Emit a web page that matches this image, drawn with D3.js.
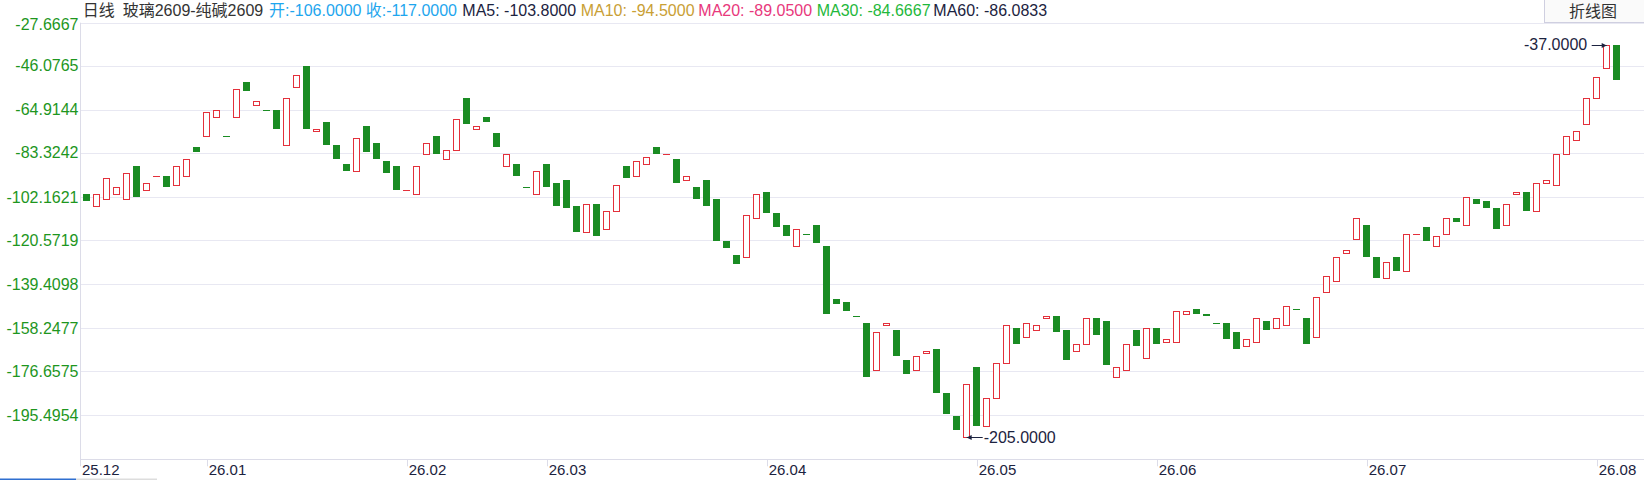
<!DOCTYPE html>
<html>
<head>
<meta charset="utf-8">
<script src="https://cdn.jsdelivr.net/npm/d3@7"></script>
<style>
  html, body { margin: 0; padding: 0; background: #ffffff; }
  svg { display: block; font-family: Arial, 'Liberation Sans', 'Noto Sans CJK SC', sans-serif; }
</style>
</head>
<body>
<svg id="canvas" width="1644" height="480"></svg>
<script>
// daily open / close of the spread
let dayOpen = [
  -101, -106, -103, -101, -103, -89, -99, -93, -93, -97,
  -93, -81, -76, -68, -76, -68, -53, -63, -65, -65,
  -80, -55, -46, -74, -70, -80, -88, -91, -72, -79,
  -87, -89, -99, -101, -84, -76, -86, -82, -60, -73,
  -68, -75, -89, -88, -98, -101, -88, -96, -95, -106,
  -117, -105, -116, -108, -89, -93, -88, -81, -84, -86,
  -95, -98, -95, -103, -121, -127, -128, -111, -100, -109,
  -114, -123, -118, -114, -123, -146, -147, -153, -156, -176,
  -157, -159, -172, -176, -169, -167, -186, -196, -205, -175,
  -200, -188, -173, -158, -162, -159, -154, -153, -159, -168,
  -165, -154, -155, -179, -176, -159, -171, -158, -164, -164,
  -152, -150, -152, -156, -156, -160, -166, -164, -155, -158,
  -157, -150, -154, -162, -143, -138, -126, -120, -114, -128,
  -137, -128, -134, -118, -115, -123, -118, -111, -114, -103,
  -104, -107, -114, -101, -100, -108, -96, -97, -84, -78,
  -71, -60, -47, -37
];

let dayClose = [
  -104, -101, -94, -98, -92, -102, -96, -93, -98, -89,
  -86, -83, -66, -65, -76, -56, -57, -61, -65, -73,
  -60, -50, -73, -73, -80, -86, -91, -77, -83, -86,
  -92, -99, -99, -89, -79, -84, -82, -69, -71, -72,
  -70, -81, -84, -93, -98, -91, -98, -106, -107, -117,
  -105, -119, -108, -97, -94, -87, -85, -84, -84, -96,
  -93, -103, -106, -121, -124, -131, -110, -101, -109, -115,
  -119, -116, -118, -122, -152, -148, -151, -153, -179, -160,
  -156, -170, -178, -170, -168, -186, -195, -202, -182, -200,
  -188, -173, -157, -165, -156, -157, -153, -160, -172, -165,
  -154, -161, -174, -175, -165, -166, -158, -165, -163, -151,
  -151, -152, -153, -156, -163, -167, -163, -154, -159, -154,
  -149, -150, -165, -145, -136, -128, -125, -111, -128, -137,
  -130, -134, -118, -118, -121, -119, -111, -113, -102, -105,
  -107, -116, -105, -100, -108, -96, -95, -84, -76, -74,
  -60, -51, -37, -52
];

let monthLabels = ['25.12', '26.01', '26.02', '26.03', '26.04', '26.05', '26.06', '26.07', '26.08'];
let monthStart = [0, 12, 32, 46, 68, 89, 107, 128, 151];

let yTickLabels = ['-27.6667', '-46.0765', '-64.9144', '-83.3242', '-102.1621',
  '-120.5719', '-139.4098', '-158.2477', '-176.6575', '-195.4954'];

let maNames = ['MA5', 'MA10', 'MA20', 'MA30', 'MA60'];
let maValues = [-103.8, -94.5, -89.05, -84.6667, -86.0833];
let maColors = ['#1c2340', '#c9a035', '#e8387c', '#1fb83c', '#1c2340'];

let headerDay = 49;

let width = 1644;
let marginLeft = 80;
let plotTop = 22.7;
let plotBottom = 459.3;

let upColor = '#e3303b';
let downColor = '#1a8c23';
let gridColor = '#e8e8f2';
let axisColor = '#dcdce8';

let canvas = d3.select('#canvas');

let highs = dayOpen.map((o, i) => Math.max(o, dayClose[i]));
let lows = dayOpen.map((o, i) => Math.min(o, dayClose[i]));
let hi = d3.max(highs);
let lo = d3.min(lows);
let pad = (hi - lo) / 18;

let xScale = d3
  .scaleBand()
  .domain(d3.range(dayOpen.length))
  .range([marginLeft + 1.7, marginLeft + 1.7 + dayOpen.length * 10])
  .paddingInner(0.33)
  .paddingOuter(0.165);

let yScale = d3
  .scaleLinear()
  .domain([lo - pad, hi + pad])
  .range([plotBottom, plotTop]);

let bw = xScale.bandwidth();
let crisp = (v) => Math.round(v) + 0.5;

// grid lines + left labels
let tickValues = yTickLabels.map((t) => parseFloat(t));

canvas
  .selectAll('line.grid')
  .data(tickValues)
  .enter()
  .append('line')
  .attr('class', 'grid')
  .attr('x1', marginLeft)
  .attr('x2', width)
  .attr('y1', (v) => crisp(yScale(v)))
  .attr('y2', (v) => crisp(yScale(v)))
  .attr('stroke', gridColor)
  .attr('stroke-width', 1);

canvas
  .selectAll('text.ylabel')
  .data(yTickLabels)
  .enter()
  .append('text')
  .attr('class', 'ylabel')
  .attr('x', marginLeft - 1.5)
  .attr('y', (t) => Math.max(yScale(parseFloat(t)), 24))
  .attr('dy', '0.35em')
  .attr('text-anchor', 'end')
  .attr('font-size', 16)
  .attr('fill', '#1e961e')
  .text((t) => t);

// axis lines
canvas
  .append('line')
  .attr('x1', crisp(marginLeft))
  .attr('x2', crisp(marginLeft))
  .attr('y1', plotTop)
  .attr('y2', plotBottom + 7)
  .attr('stroke', axisColor);

canvas
  .append('line')
  .attr('x1', marginLeft)
  .attr('x2', width)
  .attr('y1', crisp(plotBottom))
  .attr('y2', crisp(plotBottom))
  .attr('stroke', axisColor);

// month ticks
let tickX = (k) => (k === 0 ? marginLeft : xScale(k) + bw / 2);

canvas
  .selectAll('line.xtick')
  .data(monthStart.filter((k) => k > 0))
  .enter()
  .append('line')
  .attr('class', 'xtick')
  .attr('x1', (k) => crisp(tickX(k)))
  .attr('x2', (k) => crisp(tickX(k)))
  .attr('y1', plotBottom)
  .attr('y2', plotBottom + 7)
  .attr('stroke', axisColor);

canvas
  .selectAll('text.xlabel')
  .data(monthStart)
  .enter()
  .append('text')
  .attr('class', 'xlabel')
  .attr('x', (k) => tickX(k) + 2)
  .attr('y', 475)
  .attr('font-size', 15)
  .attr('fill', '#1c2340')
  .text((k, i) => monthLabels[i]);

// candles
let candles = dayOpen.map((o, i) => {
  let c = dayClose[i];
  let prev = i > 0 ? dayClose[i - 1] : o;
  let up = c > o || (c === o && c >= prev);
  return { i: i, o: o, c: c, up: up };
});

let block = canvas
  .selectAll('g.candle')
  .data(candles)
  .enter()
  .append('g')
  .attr('class', 'candle');

block
  .filter((d) => !d.up)
  .append('rect')
  .attr('x', (d) => Math.round(xScale(d.i)))
  .attr('width', Math.round(bw))
  .attr('y', (d) => Math.round(yScale(Math.max(d.o, d.c))))
  .attr('height', (d) =>
    Math.max(Math.round(yScale(Math.min(d.o, d.c))) - Math.round(yScale(Math.max(d.o, d.c))), 1)
  )
  .attr('fill', downColor);

block
  .filter((d) => d.up && d.o !== d.c)
  .append('rect')
  .attr('x', (d) => Math.round(xScale(d.i)) + 0.5)
  .attr('width', Math.round(bw) - 1)
  .attr('y', (d) => crisp(yScale(Math.max(d.o, d.c))))
  .attr('height', (d) =>
    Math.max(Math.round(yScale(Math.min(d.o, d.c))) - Math.round(yScale(Math.max(d.o, d.c))), 1)
  )
  .attr('fill', '#ffffff')
  .attr('stroke', upColor)
  .attr('stroke-width', 1);

block
  .filter((d) => d.up && d.o === d.c)
  .append('line')
  .attr('x1', (d) => Math.round(xScale(d.i)))
  .attr('x2', (d) => Math.round(xScale(d.i)) + Math.round(bw))
  .attr('y1', (d) => crisp(yScale(d.c)))
  .attr('y2', (d) => crisp(yScale(d.c)))
  .attr('stroke', upColor)
  .attr('stroke-width', 1);

// max / min markers
let hiIdx = d3.maxIndex(highs);
let loIdx = d3.minIndex(lows);
let markColor = '#1c2340';

let arrow = (x, y, dir) => {
  let p = d3.path();
  p.moveTo(x, y);
  p.lineTo(x - dir * 5, y - 2.5);
  p.lineTo(x - dir * 5, y + 2.5);
  p.closePath();
  return p.toString();
};

let hx = xScale(hiIdx) + bw / 2;
let hy = yScale(highs[hiIdx]);
canvas.append('line')
  .attr('x1', hx - 15).attr('x2', hx)
  .attr('y1', crisp(hy)).attr('y2', crisp(hy))
  .attr('stroke', markColor);
canvas.append('path').attr('d', arrow(hx, crisp(hy), 1)).attr('fill', markColor);
canvas.append('text')
  .attr('x', hx - 19.5)
  .attr('y', hy)
  .attr('dy', '0.35em')
  .attr('text-anchor', 'end')
  .attr('font-size', 16)
  .attr('fill', markColor)
  .text(highs[hiIdx].toFixed(4));

let lx = xScale(loIdx) + bw / 2;
let ly = yScale(lows[loIdx]);
canvas.append('line')
  .attr('x1', lx).attr('x2', lx + 16)
  .attr('y1', crisp(ly)).attr('y2', crisp(ly))
  .attr('stroke', markColor);
canvas.append('path').attr('d', arrow(lx, crisp(ly), -1)).attr('fill', markColor);
canvas.append('text')
  .attr('x', lx + 17)
  .attr('y', ly)
  .attr('dy', '0.35em')
  .attr('font-size', 16)
  .attr('fill', markColor)
  .text(lows[loIdx].toFixed(4));

// header legend
let header = [
  { x: 82.7, text: '日线', color: '#333333' },
  { x: 122.7, text: '玻璃2609-纯碱2609', color: '#333333' },
  { x: 269, text: '开:' + dayOpen[headerDay].toFixed(4), color: '#1ea6ee' },
  { x: 365.7, text: '收:' + dayClose[headerDay].toFixed(4), color: '#1ea6ee' }
];
let maX = [462.3, 580.7, 698.3, 816.7, 933.3];
maNames.forEach((name, i) => {
  header.push({ x: maX[i], text: name + ': ' + maValues[i].toFixed(4), color: maColors[i] });
});

canvas
  .selectAll('text.header')
  .data(header)
  .enter()
  .append('text')
  .attr('class', 'header')
  .attr('x', (d) => d.x)
  .attr('y', 16)
  .attr('font-size', 16)
  .attr('fill', (d) => d.color)
  .text((d) => d.text);

// switch button top right
canvas
  .append('rect')
  .attr('x', 1544.5)
  .attr('y', -1)
  .attr('width', 110)
  .attr('height', 23.5)
  .attr('fill', '#fafafa')
  .attr('stroke', '#cfcfe0');

canvas
  .append('text')
  .attr('x', 1593)
  .attr('y', 17)
  .attr('text-anchor', 'middle')
  .attr('font-size', 16)
  .attr('fill', '#333333')
  .text('折线图');

// scroll bar stub bottom left
canvas.append('rect').attr('x', 0).attr('y', 478.5).attr('width', 76).attr('height', 1.5).attr('fill', '#2f6fd0');
canvas.append('rect').attr('x', 76).attr('y', 478.5).attr('width', 81).attr('height', 1.5).attr('fill', '#dddddd');
</script>
</body>
</html>
